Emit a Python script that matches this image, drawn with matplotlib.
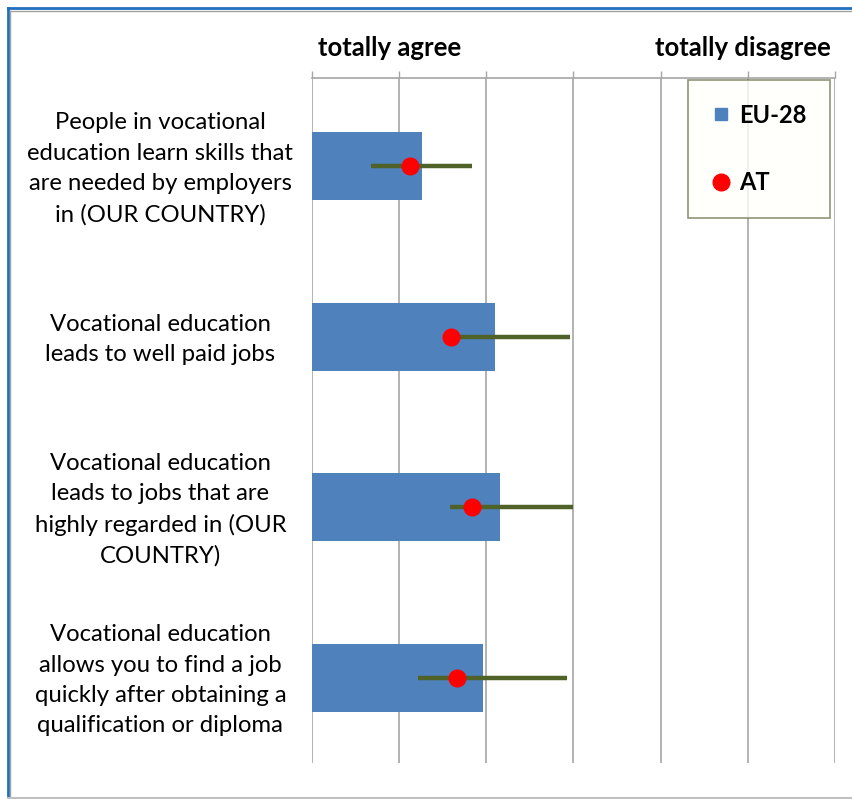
import matplotlib
matplotlib.use("Agg")
import matplotlib.pyplot as plt
from matplotlib.lines import Line2D
import matplotlib.transforms as mtransforms
import numpy as np

categories = [
    "People in vocational\neducation learn skills that\nare needed by employers\nin (OUR COUNTRY)",
    "Vocational education\nleads to well paid jobs",
    "Vocational education\nleads to jobs that are\nhighly regarded in (OUR\nCOUNTRY)",
    "Vocational education\nallows you to find a job\nquickly after obtaining a\nqualification or diploma",
]
eu28 = [1.63, 2.05, 2.08, 1.98]
at_value = [1.56, 1.80, 1.92, 1.83]
at_low = [1.34, 1.79, 1.79, 1.61]
at_high = [1.92, 2.48, 2.50, 2.46]
x_ticks = [1.0, 1.5, 2.0, 2.5, 3.0, 3.5, 4.0]
scale_labels = ["totally agree", "totally disagree"]

FONT = "Lato"
W, H = 853, 799
fig = plt.figure(figsize=(W / 100, H / 100), dpi=100)
ax = fig.add_axes([312 / W, 1 - 763 / H, (835 - 312) / W, (763 - 78) / H])

y = np.arange(len(categories))
bar_color = "#4f81bd"
ax.barh(y, np.array(eu28) - 1.0, left=1.0, height=0.4, color=bar_color, zorder=2)
ax.hlines(y, at_low, at_high, color="#4f6228", linewidth=3.2, zorder=3)
ax.plot(at_value, y, "o", color="#ff0000", markersize=13, markeredgewidth=0,
        zorder=4, linestyle="none")

ax.set_xlim(1, 4)
ax.set_ylim(len(categories) - 0.5, -0.518)
ax.set_xticks(x_ticks)
ax.xaxis.tick_top()
ax.tick_params(axis="x", which="both", length=5, color="#a6a6a6", labeltop=False,
               labelbottom=False, width=1)
ax.tick_params(axis="y", length=0)
ax.set_yticks(y)
ax.set_yticklabels([])
ax.grid(axis="x", color="#a6a6a6", linewidth=1.2, zorder=0)
ax.set_axisbelow(True)
for s in ["left", "right", "bottom"]:
    ax.spines[s].set_visible(False)
ax.spines["top"].set_color("#a6a6a6")
ax.spines["top"].set_linewidth(1.2)

# category labels
label_tr = ax.get_yaxis_transform() + mtransforms.ScaledTranslation(0, -2.5 / 100, fig.dpi_scale_trans)
for i, lab in enumerate(categories):
    ax.text(-0.29, i, lab, transform=label_tr, ha="center",
            va="center", fontsize=17.2, family=FONT, linespacing=1.55, color="#000000")

# scale labels
ax.text(390 / W, 1 - 48 / H, scale_labels[0], transform=fig.transFigure, ha="center",
        va="center", fontsize=18.5, fontweight="bold", family=FONT)
ax.text(743 / W, 1 - 48 / H, scale_labels[1], transform=fig.transFigure, ha="center",
        va="center", fontsize=18.5, fontweight="bold", family=FONT)

handles = [
    Line2D([], [], marker="s", color=bar_color, linestyle="none", markersize=9),
    Line2D([], [], marker="o", color="#ff0000", linestyle="none", markersize=12),
]
leg = fig.legend(handles, ["EU-28", "AT"], loc="upper left",
                 bbox_to_anchor=(688 / W, 1 - 80 / H), frameon=True,
                 prop={"family": FONT, "weight": "bold", "size": 17},
                 labelspacing=1.9, borderpad=1.0, handlelength=0.8,
                 handletextpad=0.35, fancybox=False, borderaxespad=0)
leg.get_frame().set_edgecolor("#77785a")
leg.get_frame().set_facecolor("#fffffb")
leg.get_frame().set_linewidth(1.2)

# outer frame
fig.add_artist(Line2D([8 / W, 8 / W], [0, 1 - 8 / H], transform=fig.transFigure,
                      color="#1f6fc0", linewidth=2))
fig.add_artist(Line2D([8 / W, 1], [1 - 8 / H, 1 - 8 / H], transform=fig.transFigure,
                      color="#1f6fc0", linewidth=2))
fig.add_artist(Line2D([10.5 / W, 10.5 / W], [0, 1 - 10.5 / H], transform=fig.transFigure,
                      color="#a0a0a0", linewidth=1))
fig.add_artist(Line2D([10.5 / W, 1], [1 - 10.5 / H, 1 - 10.5 / H], transform=fig.transFigure,
                      color="#a0a0a0", linewidth=1))
fig.add_artist(Line2D([8 / W, 1], [1.5 / H, 1.5 / H], transform=fig.transFigure,
                      color="#c0c0c0", linewidth=1.5))

fig.savefig("out.png", dpi=100)
